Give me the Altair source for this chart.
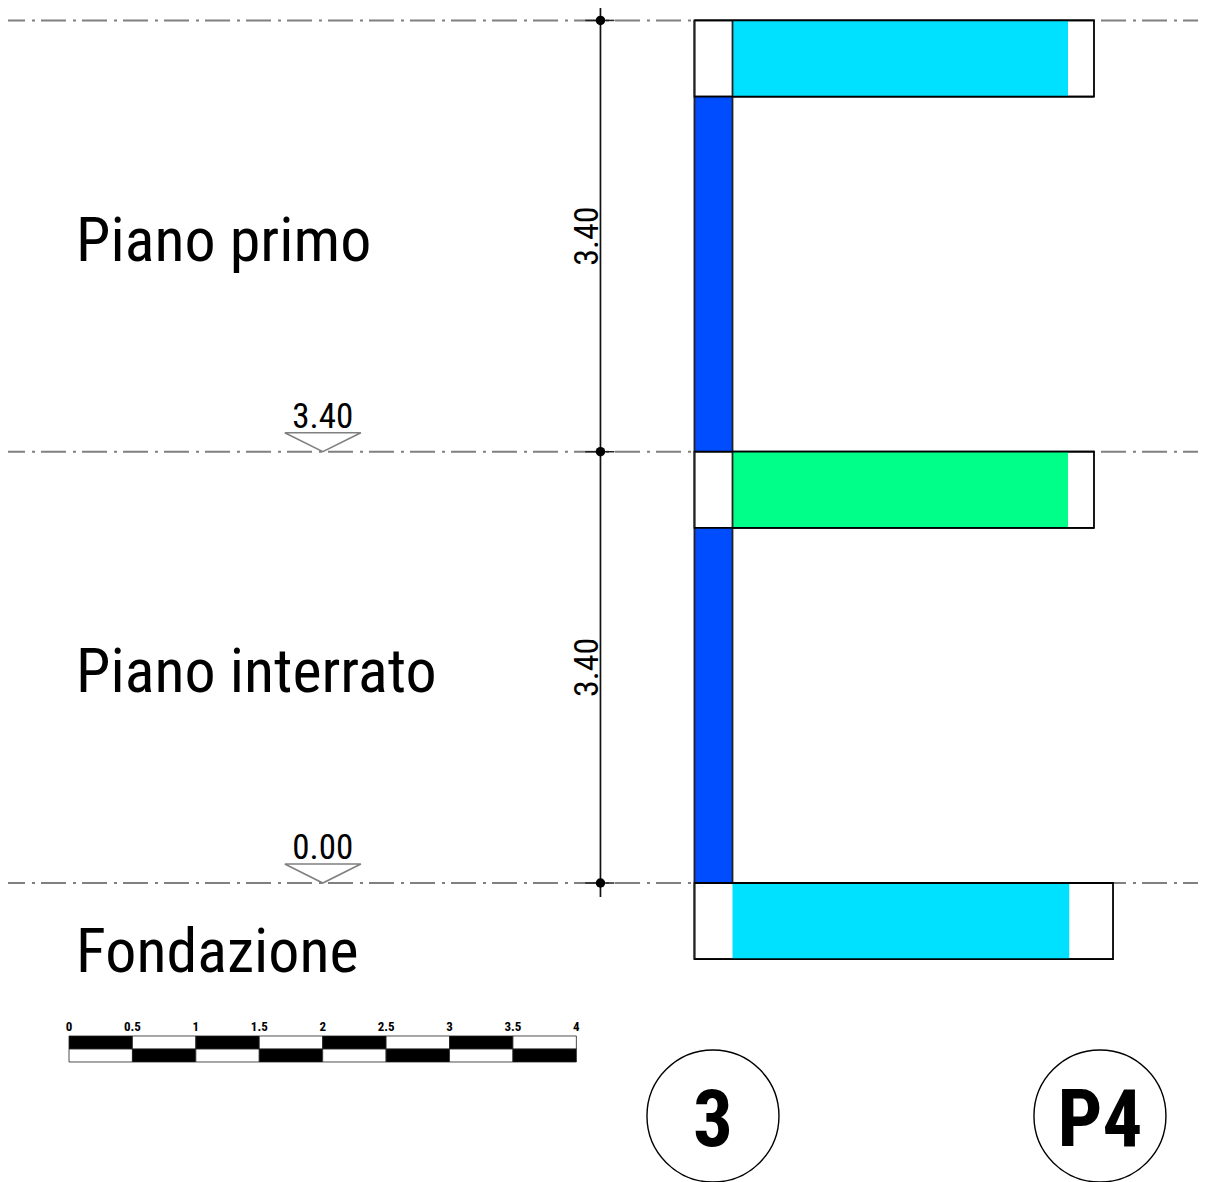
import altair as alt

# Drawing units are metres: x = 0 at the column's left face, y = 0 at elevation 0.00
X_DOMAIN = [-5.412, 3.97]
Y_DOMAIN = [-2.357, 6.898]
W, H = 1190, 1174

FONT = "Roboto Condensed, Arial Narrow, Roboto"

BLUE = "#004cff"
CYAN = "#00e1ff"
GREEN = "#00ff88"
GREY = "#808080"

levels = [6.8, 3.4, 0.0]
column_x = [0.0, 0.3]
columns_y = [(0.0, 2.8), (3.4, 6.2)]
slabs_x1 = [0.3, 0.3, 0.3]
slabs_x2 = [2.945, 2.945, 2.955]
slabs_y1 = [6.2, 2.8, -0.6]
slabs_y2 = [6.8, 3.4, 0.0]
slab_colors = [CYAN, GREEN, CYAN]
outline_x2 = [3.15, 3.15, 3.30]

dim_x = -0.741
dim_top = 6.898
dim_bottom = -0.11
dim_labels = ["3.40", "3.40"]
dim_label_y = [5.1, 1.7]

level_x = -2.93
level_labels = ["3.40", "0.00"]
level_label_y = [3.4, 0.0]

storey_names = ["Piano primo", "Piano interrato", "Fondazione"]
storey_x = [-4.875, -4.875, -4.875]
storey_y = [4.904, 1.506, -0.70]

scale_origin = -4.931
scale_ticks = [0, 0.5, 1, 1.5, 2, 2.5, 3, 3.5, 4]
scale_tick_labels = ["0", "0.5", "1", "1.5", "2", "2.5", "3", "3.5", "4"]
scale_row_top = [-1.206, -1.309]
scale_row_bottom = [-1.309, -1.411]

axis_labels = ["3", "P4"]
axis_x = [0.146, 3.197]
axis_y = -1.837

xs = alt.Scale(domain=X_DOMAIN, nice=False, zero=False)
ys = alt.Scale(domain=Y_DOMAIN, nice=False, zero=False)
X = alt.X("x:Q", scale=xs, axis=None)
Y = alt.Y("y:Q", scale=ys, axis=None)
X2 = alt.X2("x2:Q")
Y2 = alt.Y2("y2:Q")


def df(rows):
    return alt.Data(values=rows)


dash = [25, 7, 3, 6]
left_lines = alt.Chart(
    df([{"x": X_DOMAIN[0], "x2": 0.0, "y": l} for l in levels])
).mark_rule(color=GREY, strokeWidth=1.9, strokeDash=dash, strokeDashOffset=8).encode(x=X, x2=X2, y=Y)

right_lines = alt.Chart(
    df([{"x": 3.15, "x2": X_DOMAIN[1], "y": l} for l in levels])
).mark_rule(color=GREY, strokeWidth=1.9, strokeDash=dash, strokeDashOffset=34).encode(x=X, x2=X2, y=Y)

triangle_rows = []
for l in levels[1:]:
    pts = [(level_x - 0.3, l + 0.15), (level_x + 0.3, l + 0.15), (level_x, l), (level_x - 0.3, l + 0.15)]
    for i, (px, py) in enumerate(pts):
        triangle_rows.append({"x": px, "y": py, "g": str(l), "o": i})
triangles = alt.Chart(df(triangle_rows)).mark_line(color=GREY, strokeWidth=1.6).encode(
    x=X, y=Y, detail="g:N", order="o:Q"
)

dim_line = alt.Chart(df([{"x": dim_x, "y": dim_top, "y2": dim_bottom}])).mark_rule(
    color="#111111", strokeWidth=1.7
).encode(x=X, y=Y, y2=Y2)
dim_ticks = alt.Chart(df([{"x": dim_x - 0.12, "x2": dim_x + 0.11, "y": l} for l in levels])).mark_rule(
    color="#222222", strokeWidth=1.5
).encode(x=X, x2=X2, y=Y)
dim_dots = alt.Chart(df([{"x": dim_x, "y": l} for l in levels])).mark_point(
    shape="circle", filled=True, color="black", size=90, opacity=1
).encode(x=X, y=Y)

outlines = alt.Chart(
    df([{"x": 0.0, "x2": o, "y": a, "y2": b} for o, a, b in zip(outline_x2, slabs_y1, slabs_y2)])
).mark_rect(fill="white", stroke="black", strokeWidth=1.8).encode(x=X, x2=X2, y=Y, y2=Y2)

slabs = alt.Chart(
    df(
        [
            {"x": a, "x2": b, "y": c, "y2": d, "c": col}
            for a, b, c, d, col in zip(slabs_x1, slabs_x2, slabs_y1, slabs_y2, slab_colors)
        ]
    )
).mark_rect().encode(x=X, x2=X2, y=Y, y2=Y2, fill=alt.Fill("c:N", scale=None))

columns = alt.Chart(
    df([{"x": column_x[0], "x2": column_x[1], "y": a, "y2": b} for a, b in columns_y])
).mark_rect(fill=BLUE).encode(x=X, x2=X2, y=Y, y2=Y2)

frame_lines = alt.Chart(
    df(
        [
            {"x": 0.0, "y": 6.8, "y2": -0.6},
            {"x": 0.3, "y": 6.8, "y2": 0.0},
        ]
    )
).mark_rule(color="#222222", strokeWidth=1.8).encode(x=X, y=Y, y2=Y2)
slab_edges = alt.Chart(
    df([{"x": 0.0, "x2": o, "y": v} for o, a, b in zip(outline_x2, slabs_y1, slabs_y2) for v in (a, b)])
).mark_rule(color="black", strokeWidth=1.8).encode(x=X, x2=X2, y=Y)

storeys = alt.Chart(
    df([{"x": a, "y": b, "t": t} for a, b, t in zip(storey_x, storey_y, storey_names)])
).mark_text(font=FONT, fontSize=62, align="left", baseline="alphabetic", color="black").encode(
    x=X, y=Y, text="t:N"
)

dim_text = alt.Chart(df([{"x": dim_x - 0.02, "y": b, "t": t} for b, t in zip(dim_label_y, dim_labels)])).mark_text(
    font=FONT, fontSize=34, angle=270, align="center", baseline="alphabetic", color="black"
).encode(x=X, y=Y, text="t:N")

level_text = alt.Chart(
    df([{"x": level_x, "y": b + 0.19, "t": t} for b, t in zip(level_label_y, level_labels)])
).mark_text(font=FONT, fontSize=35, align="center", baseline="alphabetic", color="black").encode(
    x=X, y=Y, text="t:N"
)

scale_rows = []
for r in range(2):
    for i in range(len(scale_ticks) - 1):
        scale_rows.append(
            {
                "x": scale_origin + scale_ticks[i],
                "x2": scale_origin + scale_ticks[i + 1],
                "y": scale_row_top[r],
                "y2": scale_row_bottom[r],
                "c": "black" if (i + r) % 2 == 0 else "white",
            }
        )
scale_cells = alt.Chart(df(scale_rows)).mark_rect(stroke="#222222", strokeWidth=0.8).encode(
    x=X, x2=X2, y=Y, y2=Y2, fill=alt.Fill("c:N", scale=None)
)
scale_text = alt.Chart(
    df([{"x": scale_origin + v, "y": -1.168, "t": t} for v, t in zip(scale_ticks, scale_tick_labels)])
).mark_text(
    font=FONT, fontSize=13, fontWeight="bold", align="center", baseline="alphabetic", color="black"
).encode(x=X, y=Y, text="t:N")

axis_circles = alt.Chart(df([{"x": a, "y": axis_y} for a in axis_x])).mark_point(
    shape="circle", size=17424, stroke="black", strokeWidth=1.4, fill="white", opacity=1, filled=False
).encode(x=X, y=Y)
axis_text = alt.Chart(
    df([{"x": a, "y": axis_y - 0.235, "t": t} for a, t in zip(axis_x, axis_labels)])
).mark_text(
    font=FONT, fontSize=79, fontWeight="bold", align="center", baseline="alphabetic", color="black"
).encode(x=X, y=Y, text="t:N")

chart = (
    alt.layer(
        left_lines,
        right_lines,
        triangles,
        dim_line,
        dim_ticks,
        dim_dots,
        outlines,
        slabs,
        columns,
        frame_lines,
        slab_edges,
        storeys,
        dim_text,
        level_text,
        scale_cells,
        scale_text,
        axis_circles,
        axis_text,
    )
    .properties(width=W, height=H, padding=0, autosize=alt.AutoSizeParams(type="none"))
    .configure_view(stroke=None)
)

chart.save("out.html", embed_options={"renderer": "svg", "actions": False})
